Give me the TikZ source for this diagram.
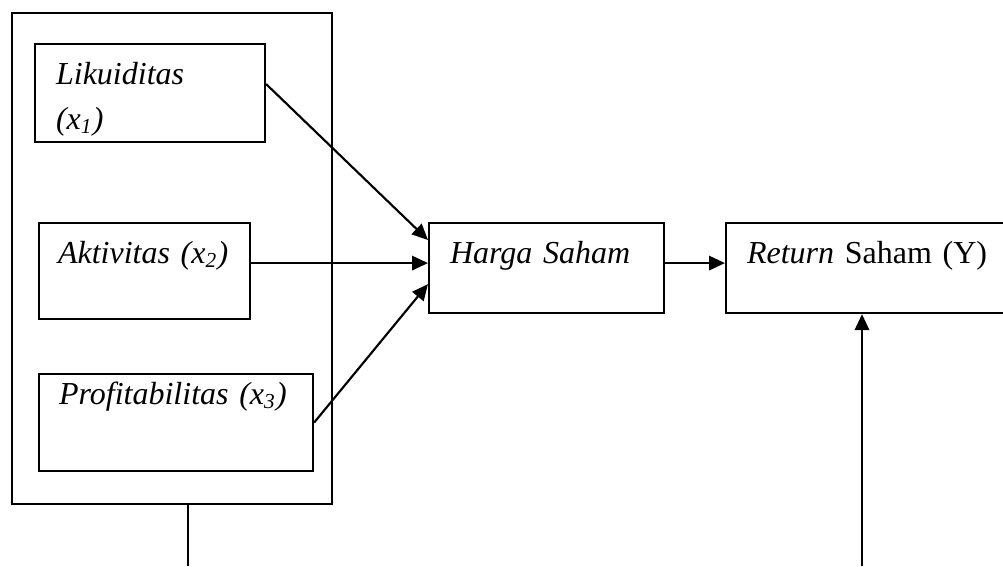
\documentclass[tikz,border=0pt,12pt]{standalone}
\usepackage{fontspec}
\setmainfont{Liberation Serif}
\usepackage{tikz}
\usetikzlibrary{calc, positioning, arrows.meta}
\tikzset{
    varbox/.style={draw=black, line width=0.8pt, rectangle, anchor=north west, inner ysep=0pt, align=left, font=\itshape},
    groupbox/.style={draw=black, line width=0.8pt, rectangle, anchor=north west, inner sep=0pt},
    linkarrow/.style={-{Triangle[length=6pt, width=5.4pt]}, line width=0.8pt, draw=black},
    plainline/.style={line width=0.8pt, draw=black}
}
\begin{document}
\begin{tikzpicture}[x=0.375pt, y=-0.375pt]
            \useasboundingbox (0,0) rectangle (1003,566);
            \node[groupbox, minimum width=120pt, minimum height=184.125pt] (group) at (11,12) {};
            \node[varbox, inner xsep=7.875pt, text width=70.5pt, text height=15pt, text depth=21.75pt] (likuid) at (34,43) {Likuiditas\\[2.4pt](x\textsubscript{1})};
            \node[varbox, inner xsep=7.125pt, text width=64.875pt, text height=15pt, text depth=21pt] (aktiv) at (38,222) {Aktivitas (x\textsubscript{2})};
            \node[varbox, inner xsep=7.5pt, text width=87.75pt, text height=11.25pt, text depth=25.125pt] (profit) at (38,373) {Profitabilitas (x\textsubscript{3})};
            \node[varbox, inner xsep=7.875pt, text width=72.375pt, text height=15pt, text depth=18.75pt] (harga) at (428,222) {Harga Saham};
            \node[varbox, inner xsep=7.875pt, text width=100pt, text height=15pt, text depth=18.75pt, font=\upshape] (return) at (725,222) {\textit{Return} Saham (Y)};
            \coordinate (stemA) at (188,566);
            \coordinate (stemB) at (862,566);
            \draw[linkarrow] (likuid.base east) -- ([yshift=-6.75pt]harga.north west);
            \draw[linkarrow] (aktiv.base east) -- (harga.base west);
            \draw[linkarrow] (profit.east) -- ([yshift=11.25pt]harga.south west);
            \draw[linkarrow] (harga.base east) -- (return.base west);
            \draw[plainline] (group.south -| stemA) -- (stemA);
            \draw[linkarrow] (stemB) -- (stemB |- return.south);
        \end{tikzpicture}
\end{document}
